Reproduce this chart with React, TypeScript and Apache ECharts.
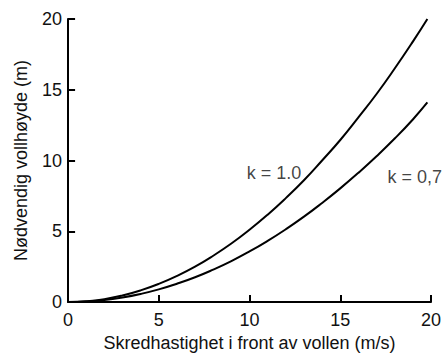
import React, { useEffect, useRef } from "react";
import * as echarts from "echarts";

const speeds = [0, 1, 2, 3, 4, 5, 6, 7, 8, 9, 10, 11, 12, 13, 14, 15, 16, 17, 18, 19, 19.8];
const heightK10 = [0, 0.05, 0.2, 0.46, 0.82, 1.28, 1.84, 2.5, 3.27, 4.13, 5.1, 6.17, 7.34, 8.6, 10.0, 11.45, 13.05, 14.7, 16.5, 18.4, 20.0];
const heightK07 = [0, 0.04, 0.14, 0.32, 0.57, 0.89, 1.29, 1.75, 2.29, 2.89, 3.57, 4.32, 5.14, 6.03, 7.0, 8.03, 9.13, 10.3, 11.55, 12.9, 14.1];
const tickValues = [5, 10, 15, 20];
const curveLabels = ["k = 1.0", "k = 0,7"];
const curveLabelAt = [[11.35, 9.1], [19.1, 8.8]];
const xTitle = "Skredhastighet i front av vollen (m/s)";
const yTitle = "Nødvendig vollhøyde (m)";

const FONT = "'Liberation Sans', Arial, sans-serif";

export default function App() {
  const ref = useRef<HTMLDivElement>(null);
  useEffect(() => {
    if (!ref.current) return;
    const chart = echarts.init(ref.current, undefined, { renderer: "svg" });
    const mkAxis = (name: string, nameGap: number, labelMargin: number) => ({
      type: "value",
      min: 0,
      max: 20,
      interval: 5,
      axisLine: { show: true, lineStyle: { color: "#000", width: 2 } },
      axisTick: { show: true, inside: true, length: 7, lineStyle: { color: "#000", width: 2 } },
      splitLine: { show: true, lineStyle: { color: "#ccc", opacity: 0 } },
      name,
      nameLocation: "middle",
      nameGap,
      nameTextStyle: { color: "#111", fontSize: 18, fontFamily: FONT },
      axisLabel: { color: "#111", fontSize: 18, fontFamily: FONT, margin: labelMargin },
    });
    const tickX = 0.39;
    const tickY = 0.5;
    const axisSegments: any[] = [
      [{ coord: [0, 0] }, { coord: [0, 20] }],
      ...tickValues.map((t) => [{ coord: [0, t] }, { coord: [tickX, t] }]),
      ...tickValues.map((t) => [{ coord: [t, 0] }, { coord: [t, tickY] }]),
    ];
    chart.setOption({
      animation: false,
      grid: { left: 68, right: 14, top: 19, bottom: 51, outerBoundsMode: "none" },
      xAxis: mkAxis(xTitle, 31, 9),
      yAxis: mkAxis(yTitle, 38, 6),
      series: [
        {
          type: "line",
          data: speeds.map((v, i) => [v, heightK10[i]]),
          smooth: true,
          showSymbol: false,
          lineStyle: { color: "#000", width: 2 },
          markLine: {
            silent: true,
            symbol: ["none", "none"],
            label: { show: false },
            lineStyle: { color: "#000", width: 2, type: "solid" },
            data: axisSegments,
          },
        },
        {
          type: "line",
          data: speeds.map((v, i) => [v, heightK07[i]]),
          smooth: true,
          showSymbol: false,
          lineStyle: { color: "#000", width: 2 },
        },
        {
          type: "scatter",
          symbolSize: 0,
          silent: true,
          data: curveLabelAt.map((p, i) => ({ value: p, name: curveLabels[i] })),
          label: {
            show: true,
            position: "inside",
            formatter: (p: any) => p.name,
            color: "#111",
            fontSize: 18,
            fontFamily: FONT,
          },
        },
      ],
    });
    return () => chart.dispose();
  }, []);
  return <div ref={ref} style={{ width: 445, height: 353, position: "absolute", left: 0, top: 0 }} />;
}
